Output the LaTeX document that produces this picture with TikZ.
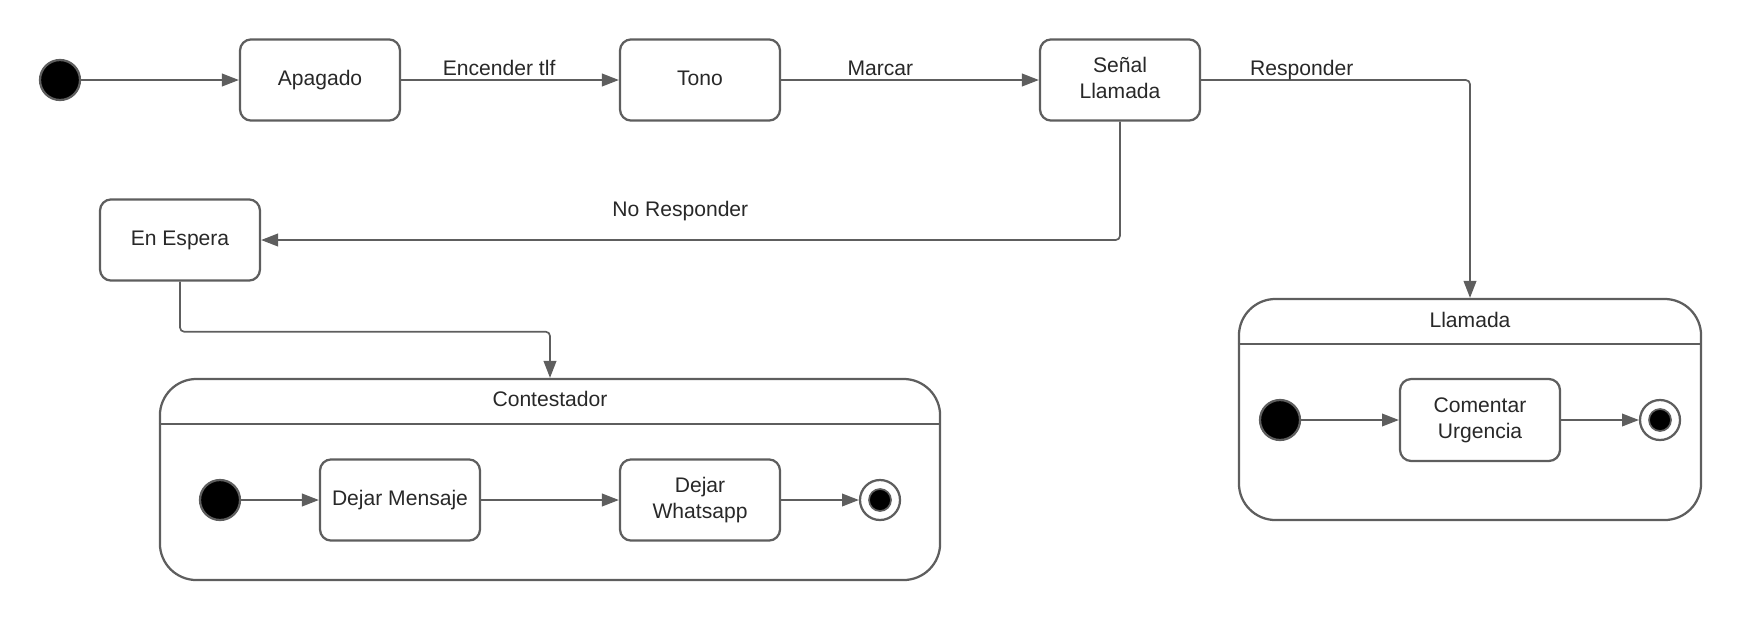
\documentclass[tikz,border=0pt]{standalone}
\usepackage{fontspec}
\setmainfont{Liberation Sans}
\usetikzlibrary{arrows.meta}
\definecolor{ln}{RGB}{94,94,94}
\definecolor{tx}{RGB}{40,40,40}
\begin{document}
\begin{tikzpicture}[x=0.025cm,y=-0.025cm,
  every node/.style={font=\fontsize{15}{18.5}\selectfont, text=tx},
  stbox/.style={draw=ln, line width=1.6pt, rounded corners=8pt, minimum width=4cm, minimum height=2.03cm, align=center, inner sep=0pt, text depth=0.32em},
  comp/.style={draw=ln, line width=1.6pt, rounded corners=26pt, inner sep=0pt},
  initst/.style={circle, draw=ln, fill=black, line width=1.6pt, minimum size=1cm, inner sep=0pt},
  finout/.style={circle, draw=ln, fill=white, line width=1.6pt, minimum size=1cm, inner sep=0pt},
  finin/.style={circle, draw=ln, fill=black, line width=1.2pt, minimum size=0.55cm, inner sep=0pt},
  conn/.style={draw=ln, line width=1.2pt, -{Triangle[length=12pt,width=9pt]}, rounded corners=3pt},
  hdr/.style={draw=ln, line width=1.6pt},
  lbl/.style={anchor=base, inner sep=0pt}]
\useasboundingbox (0,0) rectangle (1740,620);

% top row
\node[initst] (i0) at (60,80) {};
\node[stbox] (apagado) at (320,80) {Apagado};
\node[stbox] (tono) at (700,80) {Tono};
\node[stbox] (senal) at (1120,80) {Señal\\Llamada};
\node[stbox] (espera) at (180,240) {En Espera};

% composite: Contestador
\node[comp, minimum width=19.5cm, minimum height=5.025cm] (contest) at (550,479.5) {};
\draw[hdr] (contest.west |- 0,424) coordinate (ch1) -- (contest.east |- 0,424) coordinate (ch2);
\node (contitle) at (550,398.5) {Contestador};
\node[initst] (ci) at (220,500) {};
\node[stbox] (mensaje) at (400,500) {Dejar Mensaje};
\node[stbox] (whats) at (700,500) {Dejar\\Whatsapp};
\node[finout] (cf) at (880,500) {};
\node[finin] (cfin) at (cf) {};

% composite: Llamada
\node[comp, minimum width=11.55cm, minimum height=5.525cm] (llam) at (1470,409.5) {};
\draw[hdr] (llam.west |- 0,344) coordinate (lh1) -- (llam.east |- 0,344) coordinate (lh2);
\node (llamtitle) at (1470,320) {Llamada};
\node[initst] (li) at (1280,420) {};
\node[stbox, minimum height=2.05cm] (coment) at (1480,420) {Comentar\\Urgencia};
\node[finout] (lf) at (1660,420) {};
\node[finin] (lfin) at (lf) {};

% connectors
\draw[conn] (i0) -- (apagado);
\draw[conn] (apagado) -- node[lbl, pos=0.45, yshift=3pt] {Encender tlf} (tono);
\draw[conn] (tono) -- node[lbl, pos=0.385, yshift=3pt] {Marcar} (senal);
\draw[conn] (senal.east) -| node[lbl, pos=0.187, yshift=3pt] {Responder} (llam.north);
\draw[conn] (senal.south) |- node[lbl, pos=0.756, yshift=17pt] {No Responder} (espera.east);
\draw[conn] (espera.south) -- ++(0,50) coordinate (ebend) -| (contest.north);

\draw[conn] (ci) -- (mensaje);
\draw[conn] (mensaje) -- (whats);
\draw[conn] (whats) -- (cf);
\draw[conn] (li) -- (coment);
\draw[conn] (coment) -- (lf);
\end{tikzpicture}
\end{document}
